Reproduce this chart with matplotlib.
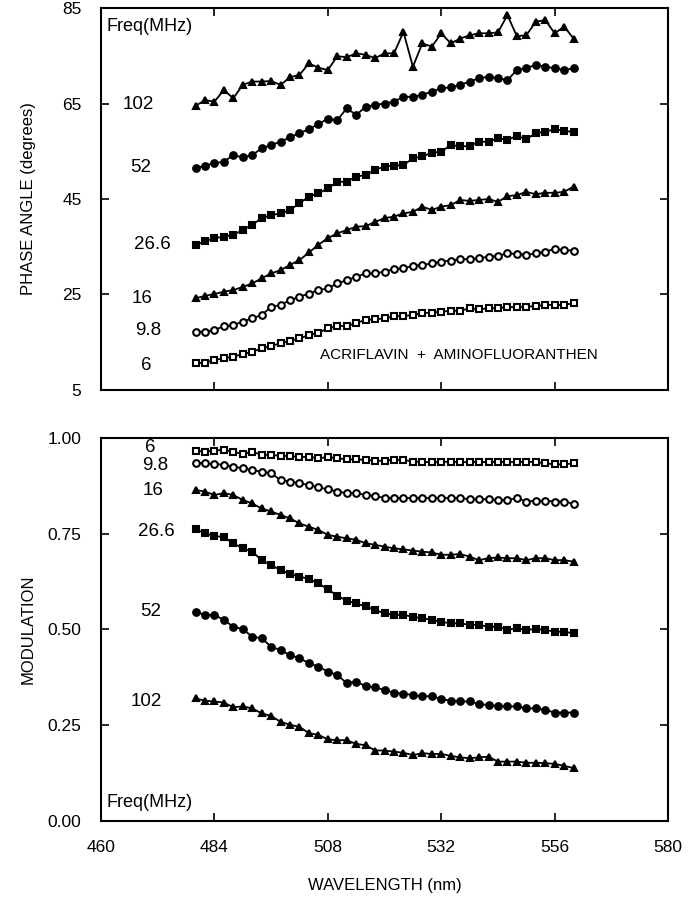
import matplotlib
matplotlib.use("Agg")
import matplotlib.pyplot as plt
import numpy as np

plt.rcParams['font.family'] = ['Liberation Sans', 'DejaVu Sans']

# wavelength grid, 480..560 nm every 2 nm
wl = np.arange(480, 561, 2)

# phase angle (degrees)
ph_102 = [64.5, 65.7, 65.4, 67.8, 66.1, 68.9, 69.6, 69.6, 69.7, 68.9,
          70.5, 71.0, 73.4, 72.5, 72.0, 74.9, 74.7, 75.5, 75.2, 74.5,
          75.5, 75.5, 80.0, 72.7, 77.6, 76.9, 79.7, 77.6, 78.6, 79.3,
          79.7, 79.7, 79.9, 83.5, 79.1, 79.3, 82.1, 82.5, 79.7, 81.1, 78.6]
ph_52 = [51.4, 52.0, 52.5, 52.8, 54.2, 53.7, 54.2, 55.6, 56.3, 57.0,
         57.9, 58.8, 59.6, 60.7, 61.8, 61.5, 64.0, 62.6, 64.3, 64.7,
         65.0, 65.4, 66.4, 66.4, 66.8, 67.5, 68.2, 68.4, 68.9, 69.6,
         70.3, 70.6, 70.3, 69.9, 72.0, 72.4, 73.1, 72.7, 72.4, 72.0, 72.4]
ph_266 = [35.4, 36.1, 36.8, 37.1, 37.5, 38.5, 39.6, 41.0, 41.6, 42.0,
          42.7, 44.1, 45.5, 46.2, 47.2, 48.6, 48.6, 49.7, 50.0, 51.1,
          51.8, 52.0, 52.1, 53.5, 53.9, 54.7, 54.9, 56.3, 56.0, 56.1,
          57.0, 57.0, 57.7, 57.4, 58.2, 57.5, 58.8, 59.1, 59.6, 59.3, 59.0]
ph_16 = [24.2, 24.7, 25.1, 25.6, 25.9, 26.6, 27.3, 28.4, 29.4, 30.1,
         31.2, 32.2, 33.8, 35.4, 36.8, 37.8, 38.5, 39.2, 39.3, 40.2,
         41.0, 41.3, 42.0, 42.3, 43.4, 42.7, 43.4, 43.7, 44.8, 44.6,
         44.8, 45.0, 44.4, 45.6, 45.8, 46.5, 46.0, 46.3, 46.3, 46.5, 47.6]
ph_98 = [17.2, 17.2, 17.6, 18.3, 18.6, 19.3, 20.0, 20.7, 22.4, 22.8,
         23.8, 24.5, 25.2, 25.9, 26.3, 27.3, 28.0, 28.7, 29.4, 29.4,
         29.8, 30.3, 30.5, 31.0, 31.2, 31.5, 31.9, 32.1, 32.4, 32.4,
         32.6, 32.9, 33.1, 33.6, 33.5, 33.3, 33.6, 34.0, 34.5, 34.3, 34.2]
ph_6 = [10.6, 10.7, 11.3, 11.6, 12.0, 12.5, 13.0, 13.7, 14.2, 14.8,
        15.3, 15.8, 16.5, 17.0, 17.9, 18.4, 18.4, 19.0, 19.7, 19.8,
        20.0, 20.4, 20.5, 20.7, 21.1, 21.2, 21.4, 21.6, 21.6, 22.1,
        21.9, 22.1, 22.1, 22.4, 22.3, 22.4, 22.6, 22.8, 22.8, 22.8, 23.2]

# modulation
m_6 = [0.967, 0.964, 0.967, 0.969, 0.964, 0.958, 0.964, 0.956, 0.956, 0.953,
       0.953, 0.950, 0.951, 0.947, 0.950, 0.947, 0.944, 0.944, 0.943, 0.940,
       0.941, 0.943, 0.943, 0.938, 0.938, 0.936, 0.937, 0.938, 0.937, 0.937,
       0.937, 0.937, 0.937, 0.937, 0.937, 0.938, 0.937, 0.934, 0.931, 0.931, 0.934]
m_98 = [0.934, 0.934, 0.932, 0.930, 0.925, 0.921, 0.916, 0.912, 0.908, 0.890,
        0.886, 0.882, 0.877, 0.871, 0.866, 0.860, 0.856, 0.856, 0.851, 0.849,
        0.843, 0.843, 0.843, 0.843, 0.843, 0.843, 0.843, 0.843, 0.843, 0.840,
        0.840, 0.840, 0.838, 0.838, 0.843, 0.834, 0.836, 0.836, 0.834, 0.834, 0.828]
m_16 = [0.864, 0.860, 0.851, 0.856, 0.851, 0.838, 0.829, 0.816, 0.808, 0.799,
        0.790, 0.777, 0.768, 0.760, 0.747, 0.742, 0.738, 0.734, 0.725, 0.721,
        0.716, 0.712, 0.709, 0.706, 0.703, 0.701, 0.695, 0.695, 0.697, 0.690,
        0.681, 0.686, 0.688, 0.686, 0.686, 0.681, 0.686, 0.686, 0.681, 0.681, 0.677]
m_266 = [0.762, 0.751, 0.744, 0.741, 0.725, 0.712, 0.703, 0.681, 0.668, 0.655,
         0.645, 0.638, 0.632, 0.620, 0.605, 0.588, 0.575, 0.568, 0.560, 0.551,
         0.542, 0.538, 0.538, 0.533, 0.529, 0.525, 0.520, 0.516, 0.516, 0.512,
         0.512, 0.507, 0.507, 0.499, 0.503, 0.499, 0.501, 0.499, 0.494, 0.494, 0.490]
m_52 = [0.546, 0.538, 0.538, 0.525, 0.507, 0.501, 0.481, 0.477, 0.455, 0.446,
        0.433, 0.425, 0.412, 0.403, 0.390, 0.381, 0.360, 0.364, 0.352, 0.349,
        0.342, 0.335, 0.332, 0.329, 0.325, 0.326, 0.318, 0.314, 0.312, 0.312,
        0.305, 0.303, 0.300, 0.299, 0.299, 0.294, 0.294, 0.290, 0.283, 0.283, 0.283]
m_102 = [0.320, 0.314, 0.312, 0.309, 0.297, 0.299, 0.294, 0.281, 0.274, 0.259,
         0.251, 0.246, 0.229, 0.225, 0.213, 0.211, 0.211, 0.201, 0.198, 0.184,
         0.184, 0.181, 0.178, 0.172, 0.177, 0.175, 0.175, 0.170, 0.166, 0.164,
         0.166, 0.168, 0.155, 0.155, 0.155, 0.152, 0.152, 0.151, 0.149, 0.144, 0.138]

# (label, data, marker, filled, label x, label y)
phase_series = [
    ("102", ph_102, "^", True, 467.8, 64.8),
    ("52", ph_52, "o", True, 468.4, 51.6),
    ("26.6", ph_266, "s", True, 470.8, 35.4),
    ("16", ph_16, "^", True, 468.6, 24.2),
    ("9.8", ph_98, "o", False, 469.9, 17.4),
    ("6", ph_6, "s", False, 469.5, 10.2),
]
mod_series = [
    ("6", m_6, "s", False, 470.5, 0.975),
    ("9.8", m_98, "o", False, 471.5, 0.929),
    ("16", m_16, "^", True, 471.0, 0.862),
    ("26.6", m_266, "s", True, 471.8, 0.755),
    ("52", m_52, "o", True, 470.6, 0.548),
    ("102", m_102, "^", True, 469.5, 0.312),
]


def draw(ax, series):
    for lab, y, mk, filled, lx, ly in series:
        ax.plot(wl, y, color='black', lw=1.3, marker=mk, ms=4.8,
                mfc='black' if filled else 'white', mec='black', mew=1.5)
        ax.text(lx, ly, lab, fontsize=13.5, ha='center', va='center')


def style(ax):
    ax.set_xlim(460, 580)
    ax.set_xticks([460, 484, 508, 532, 556, 580])
    ax.tick_params(direction='in', length=6, width=1.2, top=True, right=True,
                   labelsize=12.5, pad=14)
    for s in ax.spines.values():
        s.set_linewidth(1.5)


fig = plt.figure(figsize=(6.95, 9.0), dpi=100)

ax1 = fig.add_axes([0.1453, 0.5667, 0.816, 0.4244])
draw(ax1, phase_series)
style(ax1)
ax1.set_ylim(5, 85)
ax1.set_yticks([5, 25, 45, 65, 85])
ax1.tick_params(labelbottom=False)
ax1.set_ylabel("PHASE ANGLE (degrees)", fontsize=12)
ax1.yaxis.set_label_coords(-0.115, 0.5)
ax1.text(0.01, 0.975, "Freq(MHz)", transform=ax1.transAxes, fontsize=13,
         ha='left', va='top')
ax1.text(506.3, 12.3, "ACRIFLAVIN  +  AMINOFLUORANTHEN", fontsize=11,
         ha='left', va='center')

ax2 = fig.add_axes([0.1453, 0.0878, 0.816, 0.4256])
draw(ax2, mod_series)
style(ax2)
ax2.set_ylim(0, 1)
ax2.set_yticks([0, 0.25, 0.5, 0.75, 1.0])
ax2.set_yticklabels(["0.00", "0.25", "0.50", "0.75", "1.00"])
ax2.set_ylabel("MODULATION", fontsize=12)
ax2.yaxis.set_label_coords(-0.115, 0.5)
ax2.set_xlabel("WAVELENGTH (nm)", fontsize=12, labelpad=16)
ax2.text(0.01, 0.025, "Freq(MHz)", transform=ax2.transAxes, fontsize=13,
         ha='left', va='bottom')

fig.savefig("out.png", dpi=100)
